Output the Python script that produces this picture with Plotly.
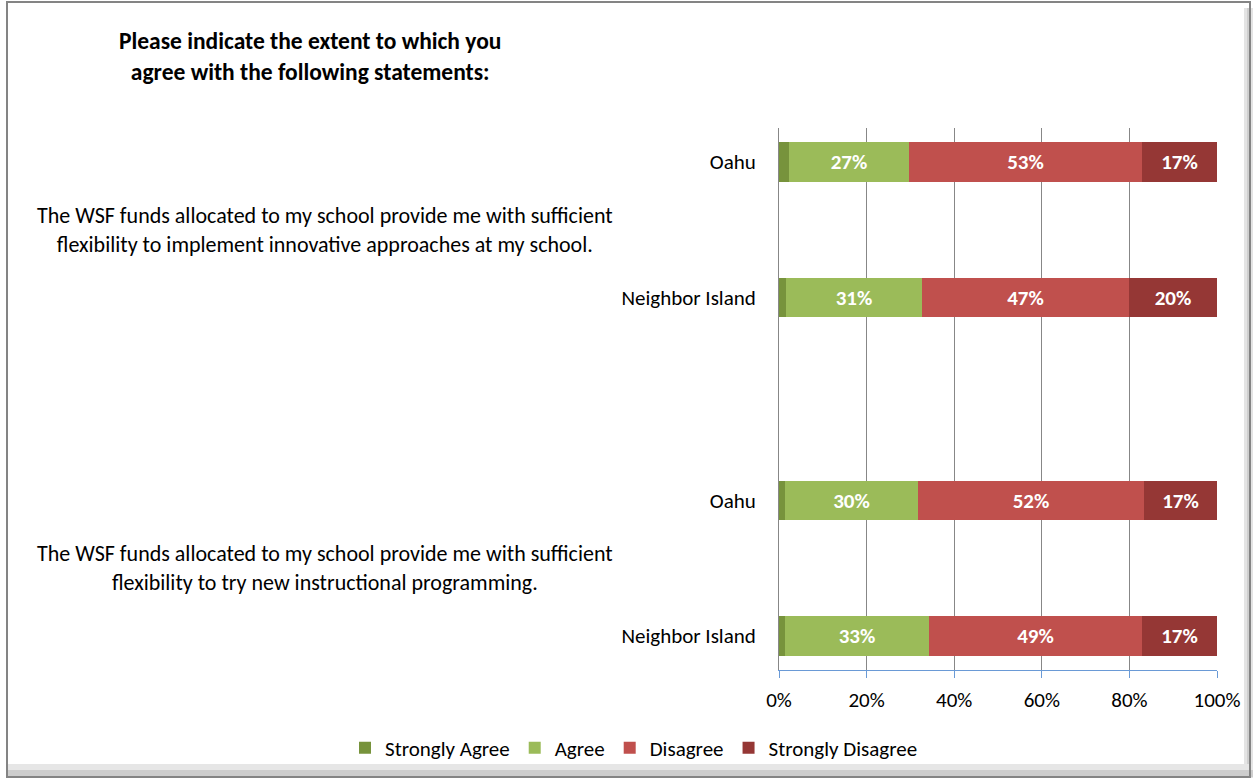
import plotly.graph_objects as go

# 設問ごとの回答分布 (%)
statements = [
    "The WSF funds allocated to my school provide me with sufficient<br>flexibility to implement innovative approaches at my school.",
    "The WSF funds allocated to my school provide me with sufficient<br>flexibility to try new instructional programming.",
]
regions = ["Oahu", "Neighbor Island", "Oahu", "Neighbor Island"]
strongly_agree = [2.2, 1.5, 1.4, 1.3]
agree = [27.4, 31.2, 30.3, 32.9]
disagree = [53.2, 47.1, 51.6, 48.6]
strongly_disagree = [17.2, 20.2, 16.7, 17.2]
x_ticks = [0, 20, 40, 60, 80, 100]

# 行の縦位置 (設問グループ間に 0.5 行分の空き)
row_pos = [0, 1, 2.5, 3.5]

FONT = "Calibri, Carlito, Lato, sans-serif"
W, H = 1253, 778
# プロット領域 (px)
PL, PR, PT, PB = 779, 1217, 128, 670


def xp(px):
    return (px - PL) / (PR - PL)


def yp(py):
    return (PB - py) / (PB - PT)


series = [
    ("Strongly Agree", strongly_agree, "#77933C", False),
    ("Agree", agree, "#9BBB59", True),
    ("Disagree", disagree, "#C0504D", True),
    ("Strongly Disagree", strongly_disagree, "#953735", True),
]

fig = go.Figure()
for name, vals, color, labelled in series:
    fig.add_trace(go.Bar(
        x=vals,
        y=row_pos,
        orientation="h",
        name=name,
        marker=dict(color=color, line=dict(width=0)),
        width=0.29,
        text=[f"{v:.0f}%" for v in vals] if labelled else None,
        textposition="inside" if labelled else "none",
        insidetextanchor="middle",
        textangle=0,
        constraintext="none",
        textfont=dict(family=FONT, size=21, color="white", weight="bold"),
        hoverinfo="x+name",
    ))

annotations = [
    dict(
        text="<b>Please indicate the extent to which you<br>agree with the following statements:</b>",
        xref="paper", yref="paper", x=xp(310), y=yp(56),
        xanchor="center", yanchor="middle", showarrow=False, align="center",
        font=dict(family=FONT, size=23.5, color="black"),
    )
]
for i, st in enumerate(statements):
    mid = (row_pos[2 * i] + row_pos[2 * i + 1]) / 2
    annotations.append(dict(
        text=st, xref="paper", yref="y", x=xp(325), y=mid,
        xanchor="center", yanchor="middle", showarrow=False, align="center",
        font=dict(family=FONT, size=22, color="black"),
    ))

shapes = [
    # 外枠と影
    dict(type="rect", xref="paper", yref="paper",
         x0=xp(1244), x1=xp(1253), y0=yp(778), y1=yp(8),
         fillcolor="#E4E4E4", line=dict(width=0), layer="below"),
    dict(type="rect", xref="paper", yref="paper",
         x0=xp(1247), x1=xp(1251), y0=yp(778), y1=yp(8),
         fillcolor="#CFCFCF", line=dict(width=0), layer="below"),
    dict(type="rect", xref="paper", yref="paper",
         x0=xp(8), x1=xp(1253), y0=yp(777), y1=yp(764),
         fillcolor="#E6E6E6", line=dict(width=0), layer="below"),
    dict(type="rect", xref="paper", yref="paper",
         x0=xp(8), x1=xp(1253), y0=yp(777), y1=yp(770),
         fillcolor="#CDCDCD", line=dict(width=0), layer="below"),
    dict(type="rect", xref="paper", yref="paper",
         x0=xp(7), x1=xp(1250), y0=yp(777), y1=yp(2),
         fillcolor="rgba(0,0,0,0)", line=dict(color="#848484", width=2)),
]

fig.update_layout(
    width=W, height=H,
    margin=dict(l=PL, r=W - PR, t=PT, b=H - PB, autoexpand=False),
    paper_bgcolor="white",
    plot_bgcolor="white",
    barmode="stack",
    bargap=0,
    font=dict(family=FONT, size=21, color="black"),
    showlegend=True,
    legend=dict(
        orientation="h", xref="paper", yref="paper",
        x=xp(634), y=yp(748), xanchor="center", yanchor="middle",
        font=dict(family=FONT, size=21, color="black"),
        itemwidth=30, traceorder="normal", bgcolor="rgba(0,0,0,0)",
    ),
    annotations=annotations,
    shapes=shapes,
)

fig.update_xaxes(
    range=[0, 100],
    tickvals=x_ticks,
    ticktext=[f"{t}%" for t in x_ticks],
    showgrid=True, gridcolor="#878787", gridwidth=1,
    zeroline=False,
    showline=True, linecolor="#6A9AD6", linewidth=1,
    ticks="outside", ticklen=7, tickcolor="#6A9AD6",
    ticklabelstandoff=4,
    tickfont=dict(family=FONT, size=21, color="black"),
    fixedrange=True,
)
fig.update_yaxes(
    range=[3.75, -0.25],
    tickvals=row_pos,
    ticktext=regions,
    showgrid=False, zeroline=False,
    showline=True, linecolor="#878787", linewidth=1,
    ticks="", ticklabelstandoff=18,
    tickfont=dict(family=FONT, size=21, color="black"),
    fixedrange=True,
)

# ブラウザ既定の body 余白を消してピクセル位置を合わせる
fig.write_html(
    "out.html",
    config={"displayModeBar": False},
    post_script="document.body.style.margin='0';document.body.style.overflow='hidden';",
)
